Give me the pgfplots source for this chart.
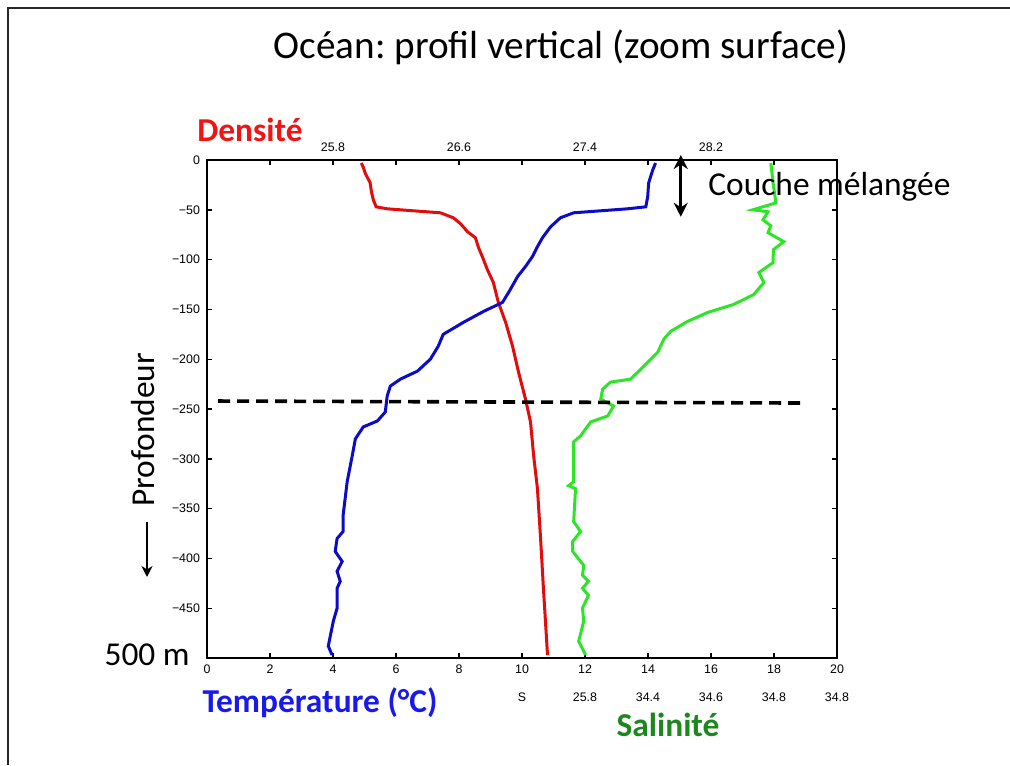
\documentclass[border=0pt]{standalone}
\usepackage{fontspec}
\setmainfont{Carlito}
\newfontfamily\tickfont{Liberation Sans}
\usepackage{pgfplots}
\usepackage{pgfplotstable}
\pgfplotsset{compat=1.18}
\usetikzlibrary{arrows.meta}
\frenchspacing

\definecolor{rouge}{RGB}{225,12,12}
\definecolor{bleu}{RGB}{12,12,200}
\definecolor{vertclair}{RGB}{45,228,40}
\definecolor{vertfonce}{RGB}{28,135,28}
\definecolor{bleutxt}{RGB}{25,25,235}
\definecolor{rougetxt}{RGB}{240,20,20}

% densite (tracee sur l'echelle du bas)
\pgfplotstableread{
x y
4.90 -3
4.97 -8
5.02 -13
5.10 -18
5.18 -23
5.22 -32
5.28 -40
5.37 -47
5.72 -49
6.55 -51
7.41 -53
7.82 -58
8.05 -64
8.27 -72
8.52 -78
8.62 -88
8.74 -97
8.90 -110
9.09 -123
9.25 -143
9.48 -163
9.70 -187
9.89 -213
10.11 -240
10.27 -263
10.37 -297
10.49 -330
10.59 -380
10.68 -430
10.81 -497
}\densite

% temperature
\pgfplotstableread{
x y
14.24 -3
14.15 -10
14.02 -23
13.99 -37
13.93 -47
13.35 -49
12.50 -51
11.64 -53
11.22 -58
10.91 -67
10.65 -78
10.49 -87
10.33 -97
10.11 -107
9.86 -117
9.63 -130
9.38 -143
8.78 -152
8.14 -163
7.50 -175
7.34 -187
7.09 -200
6.68 -212
6.14 -220
5.82 -227
5.72 -237
5.66 -253
5.41 -262
4.96 -268
4.71 -280
4.61 -297
4.45 -323
4.32 -357
4.32 -373
4.13 -380
4.07 -393
4.29 -403
4.13 -413
4.23 -423
4.13 -430
4.13 -450
4.01 -463
3.85 -488
3.97 -497
}\temperature

% salinite
\pgfplotstableread{
x y
17.90 -3
17.97 -23
18.06 -43
17.33 -50
17.81 -52
17.65 -60
17.90 -66
17.81 -73
18.31 -82
17.98 -90
17.97 -103
17.52 -113
17.68 -123
17.36 -135
16.72 -145
15.90 -153
15.26 -162
14.72 -172
14.50 -180
14.31 -193
13.77 -210
13.45 -220
12.81 -223
12.56 -230
12.50 -240
12.91 -247
12.72 -257
12.18 -263
11.86 -277
11.64 -283
11.64 -323
11.48 -327
11.70 -330
11.64 -363
11.86 -373
11.61 -383
11.61 -393
11.96 -407
11.92 -417
12.11 -423
11.92 -430
12.11 -437
11.92 -450
11.96 -463
11.80 -483
12.02 -497
}\salinite

\newcommand{\tickf}{\tickfont\fontsize{6.2}{7}\selectfont}

\begin{document}
\begin{tikzpicture}[x=0.5pt,y=0.5pt]
\useasboundingbox (0,0) rectangle (1010,765);
\draw[line width=1.25pt, black!85] (8,0) -- (8,757) -- (1010,757);

\begin{axis}[
    at={(103.5pt,53.5pt)}, anchor=south west,
    scale only axis, width=315pt, height=249pt,
    xmin=0, xmax=20, ymin=-500, ymax=0,
    xtick={0,2,...,20},
    ytick={-500,-450,...,0},
    yticklabels={,−450,−400,−350,−300,−250,−200,−150,−100,−50,0},
    ticklabel style={font=\tickf},
    /pgf/number format/assume math mode=true,
    axis line style={line width=0.8pt},
    tick style={line width=0.7pt, black},
    major tick length=2.5pt,
    clip=false,
]
\addplot[rouge, line width=1.5pt] table {\densite};
\addplot[bleu, line width=1.5pt] table {\temperature};
\addplot[vertclair, line width=1.5pt] table {\salinite};
\addplot[black, line width=1.8pt, dash pattern=on 6pt off 3.5pt] coordinates {(0.35,-242) (18.86,-244)};

% echelle de densite en haut
\node[font=\tickf, anchor=base, yshift=4.5pt] at (axis cs:4,0) {25.8};
\node[font=\tickf, anchor=base, yshift=4.5pt] at (axis cs:8,0) {26.6};
\node[font=\tickf, anchor=base, yshift=4.5pt] at (axis cs:12,0) {27.4};
\node[font=\tickf, anchor=base, yshift=4.5pt] at (axis cs:16,0) {28.2};
% echelle de salinite en bas
\node[font=\tickf, anchor=base, yshift=-21.5pt] at (axis cs:10,-500) {S};
\node[font=\tickf, anchor=base, yshift=-21.5pt] at (axis cs:12,-500) {25.8};
\node[font=\tickf, anchor=base, yshift=-21.5pt] at (axis cs:14,-500) {34.4};
\node[font=\tickf, anchor=base, yshift=-21.5pt] at (axis cs:16,-500) {34.6};
\node[font=\tickf, anchor=base, yshift=-21.5pt] at (axis cs:18,-500) {34.8};
\node[font=\tickf, anchor=base, yshift=-21.5pt] at (axis cs:20,-500) {34.8};

\draw[line width=1.5pt, {Stealth[length=7pt,width=7pt]}-{Stealth[length=7pt,width=7pt]}] (axis cs:15.04,5) -- (axis cs:15.04,-57);
\end{axis}

\node[font=\fontsize{19.6}{22}\selectfont] at (561,718) {Océan: profil vertical (zoom surface)};
\node[font=\fontsize{16.7}{19}\selectfont, anchor=west, inner sep=0pt] at (708,578) {Couche mélangée};
\node[font=\fontsize{16.7}{19}\selectfont, anchor=east, inner sep=0pt] at (190,110) {500 m};
\node[font=\fontsize{16.7}{19}\selectfont, rotate=90] at (143,335) {Profondeur};
\draw[line width=1pt, -{Stealth[length=5.5pt,width=5.5pt]}] (147,243) -- (147,188);
\node[font=\bfseries\fontsize{16.7}{19}\selectfont, text=rougetxt] at (250,635) {Densité};
\node[font=\bfseries\fontsize{16.7}{19}\selectfont, text=bleutxt] at (320,62) {Température (°C)};
\node[font=\bfseries\fontsize{16.7}{19}\selectfont, text=vertfonce] at (668,40) {Salinité};
\end{tikzpicture}
\end{document}
